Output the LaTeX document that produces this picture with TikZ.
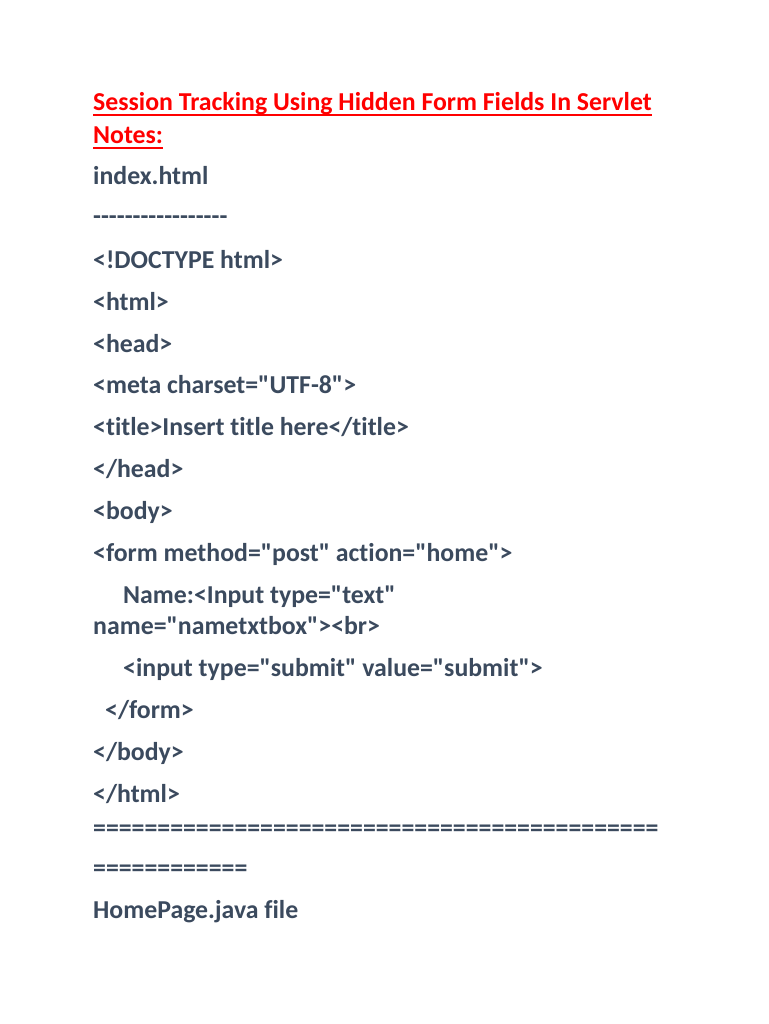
\documentclass[tikz,border=0pt]{standalone}
\usepackage{fontspec}
\setmainfont{Carlito}[Ligatures={TeXOff,NoCommon}]
\begin{document}
\begin{tikzpicture}[x=1pt,y=-1pt,
 tx/.style={anchor=base west,inner sep=0pt,text=txtc,font=\fontsize{25.8}{30}\selectfont\bfseries},
 ttl/.style={tx,text=red}]
\definecolor{txtc}{HTML}{3B4A5E}
\path[use as bounding box,fill=white] (0,0) rectangle (768,1024);
\node[ttl] (t1) at (93,111) {Session Tracking Using Hidden Form Fields In Servlet};
\node[ttl] (t2) at (93,144) {Notes:};
\draw[red,line width=1.5] ([yshift=-4]t1.base west) -- ([yshift=-4]t1.base east);
\draw[red,line width=1.5] ([yshift=-4]t2.base west) -- ([yshift=-4]t2.base east);
\node[tx] (l1) at (93,185) {index.html};
\node[tx] (l2) at (93,225) {-----------------};
\node[tx] (l3) at (93,268) {<!DOCTYPE html>};
\node[tx] (l4) at (93,310) {<html>};
\node[tx] (l5) at (93,352) {<head>};
\node[tx] (l6) at (93,393) {<meta charset="UTF-8">};
\node[tx] (l7) at (93,435) {<title>Insert title here</title>};
\node[tx] (l8) at (93,477) {</head>};
\node[tx] (l9) at (93,519) {<body>};
\node[tx] (l10) at (93,561) {<form method="post" action="home">};
\node[tx] (l11) at (123,603) {Name:<Input type="text"};
\node[tx] (l12) at (93,634) {name="nametxtbox"><br>};
\node[tx] (l13) at (123,676) {<input type="submit" value="submit">};
\node[tx] (l14) at (105,718) {</form>};
\node[tx] (l15) at (93,760) {</body>};
\node[tx] (l16) at (93,802) {</html>};
\node[tx] (l17) at (93,836) {============================================};
\node[tx] (l18) at (93,876) {============};
\node[tx] (l19) at (93,918) {HomePage.java file};
\end{tikzpicture}
\end{document}
